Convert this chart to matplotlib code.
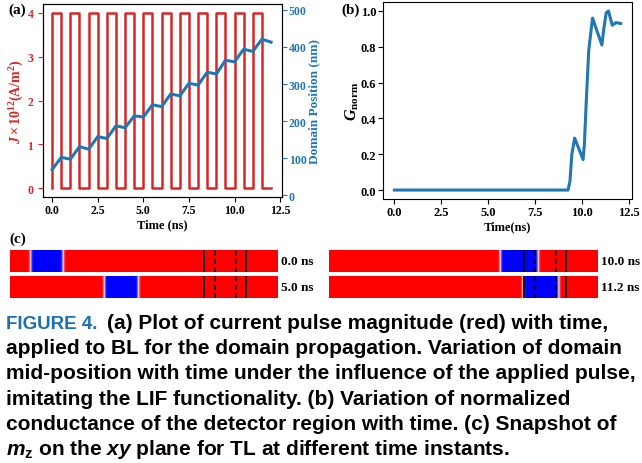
import numpy as np
import matplotlib
matplotlib.use('Agg')
import matplotlib.pyplot as plt

plt.rcParams['font.family'] = ['Liberation Serif', 'DejaVu Serif']
plt.rcParams['font.weight'] = 'bold'
plt.rcParams['axes.labelweight'] = 'bold'
plt.rcParams['mathtext.fontset'] = 'custom'
plt.rcParams['mathtext.rm'] = 'Liberation Serif:bold'
plt.rcParams['mathtext.bf'] = 'Liberation Serif:bold'
plt.rcParams['mathtext.it'] = 'Liberation Serif:italic:bold'
plt.rcParams['mathtext.sf'] = 'Liberation Sans:bold'
plt.rcParams['mathtext.bfit'] = 'Liberation Sans:italic:bold'

# (a) current pulses (ns), amplitude in 1e12 A/m^2
pulse_on = [0, 1, 2, 3, 4, 5, 6, 7, 8, 9, 10, 11]
pulse_off = [0.5, 1.5, 2.5, 3.5, 4.5, 5.5, 6.5, 7.5, 8.5, 9.5, 10.5, 11.5]
pulse_amp = 4
t_stop = 12

# domain mid-position (nm)
pos_t = [0, 0.5, 1, 1.5, 2, 2.5, 3, 3.5, 4, 4.5, 5, 5.5, 6, 6.5, 7, 7.5, 8,
         8.5, 9, 9.5, 10, 10.5, 11, 11.5, 12]
pos_nm = [69, 102, 97, 131, 124, 158, 153, 187, 182, 214, 211, 244, 239, 273,
          268, 302, 297, 332, 327, 364, 360, 394, 388, 421, 413]

# (b) normalized conductance of detector
g_t = [0, 9.25, 9.35, 9.45, 9.6, 10.05, 10.12, 10.22, 10.35, 10.55, 11.05,
       11.15, 11.28, 11.4, 11.5, 11.6, 11.8, 12.05]
g_val = [0, 0, 0.05, 0.2, 0.29, 0.17, 0.26, 0.5, 0.78, 0.96, 0.81, 0.9, 0.99,
         1.0, 0.96, 0.92, 0.935, 0.93]

# (c) m_z snapshots along the track (nm)
snap_labels = ['0.0 ns', '5.0 ns', '10.0 ns', '11.2 ns']
snap_center = [70, 212, 361, 402]
snap_width = [62, 65, 72, 68]
track_len = 510
det_solid = [369, 450]
det_dashed = [390, 430]

caption = [
    'applied to BL for the domain propagation. Variation of domain',
    'mid-position with time under the influence of the applied pulse,',
    'imitating the LIF functionality. (b) Variation of normalized',
    'conductance of the detector region with time. (c) Snapshot of',
    r'$\mathbfit{m}_{\mathsf{z}}$ on the $\mathbfit{xy}$ plane for TL at different time instants.',
]

W, H = 642, 464
fig = plt.figure(figsize=(W / 100, H / 100), dpi=100)


def box(x0, y0, x1, y1):
    return [x0 / W, 1 - y1 / H, (x1 - x0) / W, (y1 - y0) / H]


red = '#d62728'
blue = '#1f77b4'

# ---- panel (a)
ax1 = fig.add_axes(box(43, 5, 282, 198))
px, py = [0], [0]
for a, b in zip(pulse_on, pulse_off):
    px += [a, a, b, b]
    py += [0, pulse_amp, pulse_amp, 0]
px.append(t_stop)
py.append(0)
ax1.plot(px, py, color=red, lw=1.8)
ax1.set_yticks([0, 1, 2, 3, 4])
ax1.tick_params(axis='y', colors=red, labelsize=8.5)
ax1.tick_params(axis='x', labelsize=8.5, pad=1.5)
ax1.set_xticks([0, 2.5, 5, 7.5, 10, 12.5])
ax1.set_xlabel('Time (ns)', fontsize=9, labelpad=2)
ax1.set_ylabel(r'$J\times10^{12}$(A/m$^2$)', color=red, fontsize=10, labelpad=1)
for s in ax1.spines.values():
    s.set_color('black')

ax2 = ax1.twinx()
ax2.plot(pos_t, pos_nm, color=blue, lw=2.2)
ax2.set_ylim(-5, 516)
ax2.set_yticks([0, 100, 200, 300, 400, 500])
ax2.tick_params(axis='y', colors=blue, labelsize=8.5, pad=1.5)
ax2.set_ylabel('Domain Position (nm)', color=blue, fontsize=9.5, labelpad=1)
for s in ax2.spines.values():
    s.set_color('black')
ax1.set_xlim(-0.5, 12.6)

# ---- panel (b)
ax3 = fig.add_axes(box(383, 3, 632, 200))
ax3.plot(g_t, g_val, color=blue, lw=2.2)
ax3.set_xticks([0, 2.5, 5, 7.5, 10, 12.5])
ax3.set_yticks([0, 0.2, 0.4, 0.6, 0.8, 1.0])
ax3.tick_params(labelsize=9)
ax3.tick_params(axis='x', pad=1.5)
ax3.tick_params(axis='y', pad=1.5)
ax3.set_xlabel('Time(ns)', fontsize=9, labelpad=2)
ax3.set_ylabel(r'$G_{\mathrm{norm}}$', fontsize=11.5, labelpad=0)

fig.text(8 / W, 1 - 4 / H, '(a)', fontsize=11, va='top')
fig.text(341 / W, 1 - 4 / H, '(b)', fontsize=11, va='top')
fig.text(9 / W, 1 - 233 / H, '(c)', fontsize=11, va='top')

# ---- panel (c)
x = np.linspace(0, track_len, 800)
strip_boxes = [(10, 251, 278, 273), (10, 277, 278, 299),
               (329, 251, 598, 273), (329, 277, 598, 299)]
for i, (x0, y0, x1, y1) in enumerate(strip_boxes):
    ax = fig.add_axes(box(x0, y0, x1, y1))
    c, w = snap_center[i], snap_width[i]
    inside = 0.5 * (np.tanh((x - (c - w / 2)) / 2.5) - np.tanh((x - (c + w / 2)) / 2.5))
    mz = 1 - 2 * inside
    ax.imshow(mz[None, :], cmap='bwr', vmin=-1, vmax=1, aspect='auto',
              extent=[0, track_len, 0, 1], interpolation='bilinear')
    for d in det_solid:
        ax.axvline(d, color='black', lw=1.2)
    for d in det_dashed:
        ax.axvline(d, color='black', lw=1.2, ls=(0, (3, 2)))
    ax.set_xlim(0, track_len)
    ax.set_ylim(0, 1)
    ax.axis('off')
    ax.text(1.011, 0.5, snap_labels[i], transform=ax.transAxes, fontsize=9.5,
            va='center', ha='left')

# ---- caption
cap_font = dict(family=['Liberation Sans', 'DejaVu Sans'], weight='bold', fontsize=15)
y0 = 329
fig.text(6 / W, 1 - y0 / H, 'FIGURE 4.', color='#1a70b4', va='baseline',
         family=['Liberation Sans', 'DejaVu Sans'], weight='bold', fontsize=13.5)
fig.text(107 / W, 1 - y0 / H, '(a) Plot of current pulse magnitude (red) with time,',
         va='baseline', **cap_font)
for i, line in enumerate(caption):
    fig.text(6 / W, 1 - (y0 + 25.2 * (i + 1)) / H, line, va='baseline', **cap_font)

fig.savefig('out.png', dpi=100)
